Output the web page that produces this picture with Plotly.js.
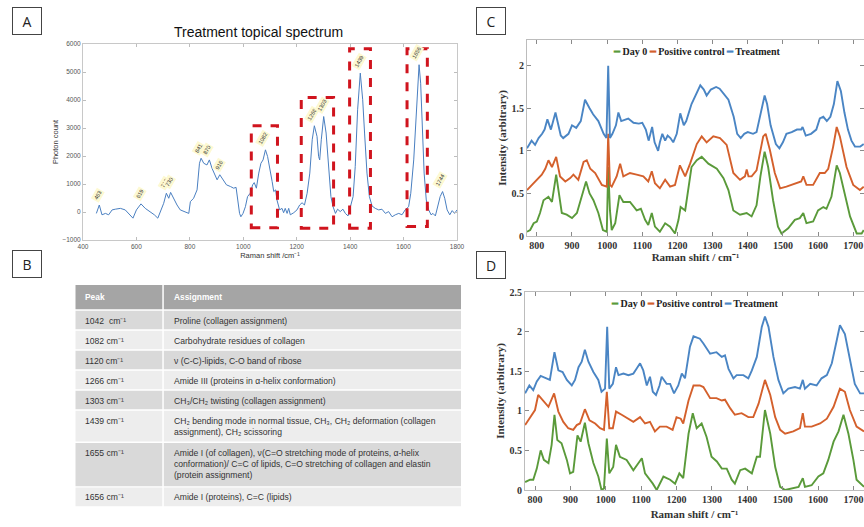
<!DOCTYPE html>
<html><head><meta charset="utf-8">
<script src="https://cdn.plot.ly/plotly-3.0.1.min.js"></script>
<style>html,body{margin:0;padding:0;background:#fff}#chart{width:864px;height:527px}</style>
</head><body><div id="chart"></div>
<script>
// ---------- Panel A : Treatment topical spectrum ----------
const aShift = [450,461,471,484,496,509,521,540,558,571,587,600,612,617,633,646,658,667,680,692,702,712,721,728,739,752,764,783,796,802,814,827,836,842,852,864,873,883,892,902,912,924,937,952,964,973,979,986,991,999,1008,1016,1026,1035,1041,1049,1058,1066,1074,1083,1091,1099,1108,1114,1121,1126,1136,1145,1151,1157,1164,1170,1176,1189,1201,1211,1220,1229,1239,1249,1258,1266,1276,1282,1286,1292,1301,1310,1320,1328,1336,1345,1353,1363,1373,1382,1392,1401,1411,1419,1428,1438,1447,1454,1463,1472,1482,1494,1507,1519,1532,1544,1557,1569,1582,1594,1606,1619,1627,1638,1647,1653,1658,1664,1670,1677,1685,1694,1703,1710,1719,1728,1737,1746,1754,1763,1773,1782,1791,1800];
const aCount = [-50,250,-100,-50,-100,75,100,130,75,-50,-220,75,230,290,130,50,-50,-100,-220,75,310,670,490,700,490,250,75,15,-50,370,490,790,1740,1920,1740,1680,1860,1560,1390,1150,1330,1150,970,910,850,880,430,-50,-170,-50,190,550,670,970,1050,850,1390,1740,1860,2220,1980,1620,1090,730,790,430,75,130,-25,130,-50,130,-100,-25,75,250,330,250,670,1390,2580,3080,2700,1980,1860,2580,3410,2820,1620,550,190,-50,100,15,100,-50,-140,190,550,1620,3650,4960,4010,2820,1390,550,215,130,75,100,-50,15,-170,-100,-50,-100,75,190,670,1860,3410,4840,5260,4600,3050,1390,430,75,-100,-50,-140,190,550,730,490,75,-100,50,-50,75];
const aPeakLabels = [463,619,713,730,841,870,916,1082,1266,1303,1439,1656,1744];
const aBoxFrom = [1030,1217,1398,1613];
const aBoxTo = [1128,1338,1476,1689];
const aBoxTop = [3080,4090,5830,5830];
const aBoxBottom = [-560,-580,-580,-520];

// ---------- Panel B : peak assignment table ----------
const tableHeader = ['Peak','Assignment'];
const tablePeaks = ['1042  cm⁻¹','1082 cm⁻¹','1120 cm⁻¹','1266 cm⁻¹','1303 cm⁻¹','1439 cm⁻¹','1655 cm⁻¹','1656 cm⁻¹'];
const tableAssignments = [
  'Proline (collagen assignment)',
  'Carbohydrate residues of collagen',
  'ν (C-C)-lipids, C-O band of ribose',
  'Amide III (proteins in α-helix conformation)',
  'CH₃/CH₂ twisting (collagen assignment)',
  'CH₂ bending mode in normal tissue, CH₃, CH₂ deformation (collagen<br>assignment), CH₂ scissoring',
  'Amide I (of collagen), ν(C=O stretching mode of proteins, α-helix<br>conformation)/ C=C of lipids, C=O stretching of collagen and elastin<br>(protein assignment)',
  'Amide I (proteins), C=C (lipids)'
];

// ---------- Panels C and D : series ----------
const seriesNames = ['Day 0','Positive control','Treatment'];
const seriesColors = ['#5a9a3a','#d4602c','#4a85c4'];

// Panel C
const cShiftDay0 = [772,781,791,800,809,819,833,843,855,865,871,885,900,914,928,940,950,961,975,988,999,1003,1008,1013,1023,1035,1046,1065,1084,1096,1108,1117,1127,1136,1150,1165,1179,1193,1203,1209,1222,1240,1255,1269,1288,1312,1331,1345,1359,1378,1397,1411,1425,1436,1448,1458,1472,1486,1496,1515,1534,1548,1558,1567,1586,1600,1615,1624,1638,1653,1662,1677,1691,1710,1724,1730];
const cDay0 = [0.05,0.07,0.15,0.17,0.27,0.42,0.46,0.4,0.72,0.42,0.27,0.25,0.21,0.27,0.46,0.64,0.5,0.42,0.27,0.07,0.05,0.81,0.3,0.07,0.15,0.48,0.4,0.4,0.3,0.32,0.19,0.13,0.27,0.11,0.05,0.15,0.11,0.03,0.19,0.34,0.3,0.81,0.89,0.93,0.85,0.79,0.68,0.54,0.3,0.25,0.27,0.23,0.36,0.7,0.99,0.81,0.42,0.11,0.03,0.09,0.19,0.21,0.27,0.15,0.17,0.3,0.34,0.32,0.46,0.83,0.74,0.46,0.23,0.03,0.03,0.07];
const cShiftPos = [772,786,800,814,824,833,843,855,866,881,895,904,918,933,942,952,966,985,999,1003,1008,1013,1027,1037,1046,1065,1084,1103,1117,1127,1136,1150,1165,1179,1193,1207,1222,1236,1255,1269,1283,1302,1321,1340,1359,1378,1392,1397,1402,1411,1425,1444,1451,1463,1477,1492,1510,1539,1552,1558,1567,1586,1605,1619,1629,1643,1653,1662,1681,1700,1719,1730];
const cPos = [0.54,0.6,0.66,0.72,0.79,0.89,0.81,0.93,0.7,0.64,0.68,0.72,0.66,0.87,0.89,0.79,0.74,0.6,0.58,1.2,0.6,0.58,0.7,0.85,0.7,0.74,0.72,0.7,0.64,0.76,0.62,0.56,0.66,0.58,0.6,0.83,0.7,0.85,1.08,1.17,1.1,1.17,1.15,1.07,0.74,0.66,0.7,0.78,0.7,0.7,0.77,1.17,1.2,1.01,0.74,0.56,0.58,0.62,0.64,0.7,0.6,0.6,0.74,0.74,0.79,1.05,1.28,1.17,0.81,0.6,0.54,0.58];
const cShiftTreat = [772,785,795,805,815,822,830,840,853,868,875,890,900,912,925,937,950,960,975,990,998,1003,1008,1015,1025,1032,1040,1055,1060,1075,1090,1100,1110,1118,1125,1128,1135,1145,1150,1157,1165,1172,1180,1188,1198,1208,1218,1225,1240,1255,1265,1275,1283,1295,1310,1320,1335,1345,1360,1370,1380,1390,1400,1415,1425,1435,1448,1455,1465,1480,1490,1500,1510,1525,1540,1552,1556,1565,1580,1595,1605,1615,1625,1635,1645,1655,1665,1675,1685,1695,1705,1720,1730];
const cTreat = [1.03,1.12,1.07,1.15,1.2,1.25,1.37,1.25,1.45,1.18,1.15,1.2,1.3,1.27,1.35,1.6,1.5,1.43,1.35,1.2,1.15,2.0,1.15,1.2,1.3,1.45,1.35,1.37,1.38,1.33,1.32,1.33,1.25,1.12,1.25,1.28,1.1,1.0,1.1,1.2,1.12,1.18,1.15,1.1,1.2,1.44,1.3,1.35,1.55,1.68,1.77,1.72,1.65,1.72,1.75,1.73,1.65,1.6,1.4,1.2,1.15,1.2,1.22,1.2,1.22,1.4,1.65,1.55,1.3,1.08,1.03,1.1,1.2,1.22,1.25,1.25,1.28,1.18,1.2,1.25,1.38,1.4,1.35,1.4,1.55,1.82,1.7,1.45,1.25,1.12,1.05,1.05,1.08];

// Panel D
const dShiftDay0 = [772,786,795,805,816,825,838,847,855,863,875,890,899,908,920,929,941,951,965,979,988,995,1003,1010,1021,1029,1040,1059,1078,1092,1102,1111,1125,1133,1144,1163,1182,1196,1208,1219,1234,1246,1257,1271,1285,1299,1314,1328,1342,1356,1365,1380,1394,1413,1427,1436,1450,1465,1479,1493,1507,1526,1545,1557,1563,1582,1601,1615,1629,1644,1658,1672,1686,1700,1709,1730];
const dDay0 = [0.1,0.13,0.13,0.27,0.5,0.38,0.34,0.57,0.95,0.63,0.59,0.38,0.21,0.23,0.69,0.61,0.85,0.59,0.34,0.17,0.0,0.02,0.65,0.21,0.29,0.57,0.42,0.38,0.25,0.34,0.4,0.21,0.13,0.08,0.0,0.17,0.13,0.08,0.21,0.15,0.71,0.97,0.78,0.84,0.67,0.42,0.36,0.27,0.27,0.13,0.08,0.25,0.27,0.21,0.42,0.42,1.01,0.71,0.29,0.04,0.0,0.02,0.04,0.15,0.04,0.06,0.17,0.21,0.38,0.61,0.74,0.95,0.71,0.38,0.13,0.04];
const dShiftPos = [772,786,800,809,822,838,854,866,880,894,908,918,927,941,954,970,984,995,1003,1010,1020,1029,1045,1064,1078,1097,1111,1125,1139,1153,1172,1189,1200,1212,1219,1234,1248,1266,1276,1295,1313,1328,1337,1352,1365,1384,1403,1417,1432,1450,1465,1479,1493,1507,1530,1549,1557,1563,1582,1606,1625,1644,1662,1676,1690,1709,1730];
const dPos = [0.82,0.92,1.01,1.2,1.13,1.05,1.22,0.99,0.86,0.78,0.76,0.82,0.84,1.02,0.88,0.84,0.78,0.76,1.24,0.78,0.78,0.99,0.95,0.9,0.86,0.92,0.84,0.86,0.74,0.8,0.8,0.76,0.92,0.9,0.84,1.13,1.32,1.32,1.3,1.16,1.16,1.13,1.14,1.03,0.95,0.97,0.92,0.92,1.09,1.39,1.2,0.92,0.76,0.71,0.74,0.78,0.97,0.8,0.8,0.84,0.9,1.05,1.28,1.24,1.01,0.8,0.74];
const dShiftTreat = [772,784,795,805,816,833,842,855,866,878,890,904,913,923,932,941,951,965,979,988,998,1004,1010,1020,1029,1036,1050,1064,1078,1087,1097,1106,1116,1125,1133,1142,1152,1158,1172,1182,1193,1205,1215,1224,1238,1248,1266,1276,1295,1313,1328,1337,1347,1361,1370,1389,1403,1413,1427,1441,1450,1460,1474,1488,1502,1516,1535,1549,1557,1563,1578,1596,1610,1625,1639,1653,1662,1676,1690,1704,1719,1730];
const dTreat = [1.22,1.32,1.26,1.37,1.44,1.41,1.39,1.74,1.51,1.49,1.39,1.32,1.39,1.55,1.62,1.77,1.62,1.49,1.39,1.24,1.28,2.06,1.28,1.34,1.55,1.45,1.47,1.45,1.47,1.53,1.6,1.51,1.32,1.43,1.24,1.2,1.32,1.43,1.34,1.34,1.22,1.32,1.47,1.41,1.81,1.94,1.91,1.85,1.72,1.74,1.68,1.7,1.53,1.41,1.45,1.45,1.41,1.51,1.68,2.06,2.19,2.06,1.68,1.39,1.22,1.28,1.3,1.28,1.39,1.28,1.34,1.32,1.41,1.45,1.6,1.89,2.08,1.97,1.64,1.34,1.22,1.22];

// ---------- helpers ----------
const W = 864, H = 527;
const px = v => v / W;             // pixel -> paper x
const py = v => 1 - v / H;         // pixel -> paper y
const serif = 'Liberation Serif, Times New Roman, serif';
const sans = 'Liberation Sans, Arial, sans-serif';

function nearestCount(x) {
  let best = 0;
  for (let i = 1; i < aShift.length; i++) if (Math.abs(aShift[i] - x) < Math.abs(aShift[best] - x)) best = i;
  return aCount[best];
}

const traces = [];
traces.push({type:'scatter', mode:'lines', x:aShift, y:aCount, xaxis:'x', yaxis:'y', name:'Treatment topical spectrum',
  line:{color:'#4a7fc1', width:1}, showlegend:false});

const cSets = [[cShiftDay0,cDay0],[cShiftPos,cPos],[cShiftTreat,cTreat]];
const dSets = [[dShiftDay0,dDay0],[dShiftPos,dPos],[dShiftTreat,dTreat]];
cSets.forEach((s,i) => traces.push({type:'scatter', mode:'lines', x:s[0], y:s[1], xaxis:'x2', yaxis:'y2', name:seriesNames[i],
  line:{color:seriesColors[i], width:1.9}, showlegend:false}));
dSets.forEach((s,i) => traces.push({type:'scatter', mode:'lines', x:s[0], y:s[1], xaxis:'x3', yaxis:'y3', name:seriesNames[i],
  line:{color:seriesColors[i], width:1.9}, showlegend:false}));

const ann = [];
const shapes = [];

// ---------- panel letters ----------
function panelLabel(t, cx, cy) {
  ann.push({xref:'paper', yref:'paper', x:px(cx), y:py(cy), text:t, showarrow:false,
    font:{family:'Open Sans, Liberation Sans, sans-serif', size:14, color:'#222'},
    width:26, height:24, bordercolor:'#444', borderwidth:1, borderpad:1, bgcolor:'#fff',
    xanchor:'center', yanchor:'middle'});
}
panelLabel('A', 27, 21);
panelLabel('B', 27, 264);
panelLabel('C', 491, 21);
panelLabel('D', 491, 265);

// ---------- panel A extras ----------
ann.push({xref:'paper', yref:'paper', x:px(258), y:py(32), text:'Treatment topical spectrum', showarrow:false,
  font:{family:sans, size:14, color:'#111'}, xanchor:'center', yanchor:'middle'});

aPeakLabels.forEach(p => ann.push({xref:'x', yref:'y', x:p, y:nearestCount(p), text:String(p), showarrow:false,
  textangle:-60, font:{family:sans, size:5.5, color:'#333'}, bgcolor:'#fdf9d2', borderpad:1,
  xanchor:'center', yanchor:'bottom', yshift:2, xshift:-2}));

aBoxFrom.forEach((x0,i) => shapes.push({type:'rect', xref:'x', yref:'y', x0:x0, x1:aBoxTo[i], y0:aBoxBottom[i], y1:aBoxTop[i],
  line:{color:'#d0141e', width:3, dash:'dash'}, fillcolor:'rgba(0,0,0,0)'}));

// ---------- panel B table (drawn with shapes + text) ----------
const colEdges = [[75.5,162.3],[163.8,461]];
const textLeft = [82.5,171.5];
const headTop = 285, headBottom = 309.3, rowGap = 1.4;
const tFont = {family:sans, size:8.6, color:'#333'};
tableHeader.forEach((h,c) => {
  shapes.push({type:'rect', xref:'paper', yref:'paper', layer:'below', x0:px(colEdges[c][0]), x1:px(colEdges[c][1]),
    y0:py(headBottom), y1:py(headTop), line:{width:0}, fillcolor:'#a5a5a5'});
  ann.push({xref:'paper', yref:'paper', x:px(textLeft[c]), y:py(296.5), text:'<b>' + h + '</b>', showarrow:false,
    xanchor:'left', yanchor:'middle', align:'left', font:{family:sans, size:8.4, color:'#ffffff'}});
});
let rowTop = headBottom + rowGap;
tablePeaks.forEach((p,i) => {
  const lines = tableAssignments[i].split('<br>').length;
  const hgt = 18.6 + 12.3 * (lines - 1);
  const fill = i % 2 === 0 ? '#d9d9d9' : '#ededed';
  const cellTexts = [p, tableAssignments[i]];
  for (let c = 0; c < 2; c++) {
    shapes.push({type:'rect', xref:'paper', yref:'paper', layer:'below', x0:px(colEdges[c][0]), x1:px(colEdges[c][1]),
      y0:py(rowTop + hgt), y1:py(rowTop), line:{width:0}, fillcolor:fill});
    ann.push({xref:'paper', yref:'paper', x:px(textLeft[c]), y:py(rowTop + 2.8), text:cellTexts[c], showarrow:false,
      xanchor:'left', yanchor:'top', align:'left', font:tFont});
  }
  rowTop += hgt + rowGap;
});

// ---------- panels C/D legends ----------
function legendText() {
  return seriesNames.map((n,i) => '<span style="color:' + seriesColors[i] + '">━</span> ' + n).join(' ');
}
ann.push({xref:'paper', yref:'paper', x:px(697), y:py(52), text:legendText(), showarrow:false,
  font:{family:serif, size:10, color:'#222', weight:'bold'}, xanchor:'center', yanchor:'middle'});
ann.push({xref:'paper', yref:'paper', x:px(695), y:py(303), text:legendText(), showarrow:false,
  font:{family:serif, size:10, color:'#222', weight:'bold'}, xanchor:'center', yanchor:'middle'});

// ---------- axes ----------
const aAxisCommon = {showline:true, linecolor:'#c8c8c8', linewidth:1, mirror:'ticks', ticks:'inside', ticklen:3,
  tickcolor:'#bdbdbd', showgrid:false, zeroline:false, automargin:false,
  tickfont:{family:sans, size:6.5, color:'#555'}};
const cdAxisCommon = {showline:true, linecolor:'#bcbcbc', linewidth:1, mirror:'ticks', ticks:'inside', ticklen:4,
  tickcolor:'#8a8a8a', showgrid:false, zeroline:false, automargin:false,
  tickfont:{family:serif, size:10, color:'#333', weight:'bold'}};
const cdTitleFont = {family:serif, size:11, color:'#333', weight:'bold'};

const layout = {
  width:W, height:H, margin:{l:0, r:0, t:0, b:0}, paper_bgcolor:'#ffffff', plot_bgcolor:'#ffffff', showlegend:false,
  xaxis:Object.assign({}, aAxisCommon, {domain:[px(83), px(457)], anchor:'y', range:[400,1800], tick0:400, dtick:200,
    title:{text:'Raman shift /cm⁻¹', font:{family:sans, size:7.5, color:'#333'}, standoff:3}}),
  yaxis:Object.assign({}, aAxisCommon, {domain:[py(240), py(44)], anchor:'x', range:[-1000,6000], tick0:0, dtick:1000,
    title:{text:'Photon count', font:{family:sans, size:7.5, color:'#333'}, standoff:2}}),
  xaxis2:Object.assign({}, cdAxisCommon, {domain:[px(527), 1], anchor:'y2', range:[772,1730.7], tick0:800, dtick:100,
    title:{text:'Raman shift / cm⁻¹', font:cdTitleFont, standoff:0}}),
  yaxis2:Object.assign({}, cdAxisCommon, {domain:[py(236), py(40)], anchor:'x2', range:[0,2.302], tick0:0, dtick:0.5,
    title:{text:'Intensity (arbitrary)', font:cdTitleFont, standoff:2}}),
  xaxis3:Object.assign({}, cdAxisCommon, {domain:[px(525), 1], anchor:'y3', range:[771.7,1730], tick0:800, dtick:100,
    title:{text:'Raman shift / cm⁻¹', font:cdTitleFont, standoff:6}}),
  yaxis3:Object.assign({}, cdAxisCommon, {domain:[py(490), py(292)], anchor:'x3', range:[0,2.5], tick0:0, dtick:0.5,
    title:{text:'Intensity (arbitrary)', font:cdTitleFont, standoff:2}}),
  annotations:ann,
  shapes:shapes
};

Plotly.newPlot('chart', traces, layout, {displayModeBar:false, responsive:false});
</script>
</body></html>
